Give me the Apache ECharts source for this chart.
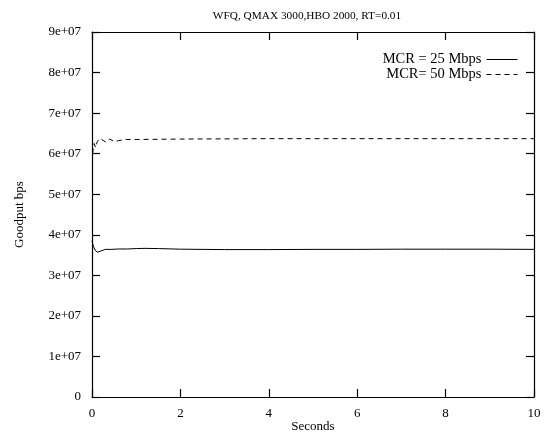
<!DOCTYPE html>
<html>
<head>
<meta charset="utf-8">
<script src="https://cdn.jsdelivr.net/npm/echarts@6/dist/echarts.min.js"></script>
<style>html,body{margin:0;padding:0;background:#fff}#c{width:547px;height:434px}</style>
</head>
<body>
<div id="c"></div>
<script>
var titleText = 'WFQ, QMAX 3000,HBO 2000, RT=0.01';
var xTicks = [0, 2, 4, 6, 8, 10];
var yTickLabels = ['0','1e+07','2e+07','3e+07','4e+07','5e+07','6e+07','7e+07','8e+07','9e+07'];
var seriesNames = ['MCR = 25 Mbps', 'MCR= 50 Mbps'];
var timeMcr25 = [0.0, 0.03, 0.07, 0.12, 0.2, 0.3, 0.45, 0.6, 0.8, 1.0, 1.2, 1.5, 2, 3, 4, 5, 6, 7, 8, 9, 10];
var goodMcr25 = [3.85e7, 3.72e7, 3.62e7, 3.57e7, 3.6e7, 3.64e7, 3.64e7, 3.65e7, 3.65e7, 3.66e7, 3.665e7, 3.66e7, 3.645e7, 3.635e7, 3.635e7, 3.64e7, 3.64e7, 3.645e7, 3.645e7, 3.645e7, 3.64e7];
var timeMcr50 = [0.01, 0.05, 0.08, 0.12, 0.18, 0.25, 0.32, 0.4, 0.5, 0.6, 0.75, 1.0, 1.5, 2, 3, 4, 5, 6, 7, 8, 9, 10];
var goodMcr50 = [6.0e7, 6.25e7, 6.15e7, 6.3e7, 6.38e7, 6.33e7, 6.28e7, 6.36e7, 6.3e7, 6.32e7, 6.35e7, 6.35e7, 6.355e7, 6.36e7, 6.365e7, 6.37e7, 6.37e7, 6.37e7, 6.37e7, 6.37e7, 6.37e7, 6.37e7];

function pairs(xs, ys) { return xs.map(function (x, i) { return [x, ys[i]]; }); }

var font = 'Liberation Serif';
var chart = echarts.init(document.getElementById('c'));
var axisLine = { show: true, onZero: false, lineStyle: { color: '#000', width: 1.2 } };
var tickIn = { show: true, inside: true, length: 8, lineStyle: { color: '#000', width: 1.2 } };
chart.setOption({
  animation: false,
  backgroundColor: '#fff',
  title: { text: titleText, left: 302, textAlign: 'center', top: 6,
    textStyle: { fontFamily: font, fontSize: 11.3, fontWeight: 'normal', color: '#000' } },
  grid: { left: 92, right: 13, top: 32, bottom: 37, containLabel: false, outerBoundsMode: 'none' },
  legend: {
    right: 29, top: 52, bottom: 'auto', left: 'auto', orient: 'vertical', align: 'right', itemGap: 0,
    itemWidth: 31, itemHeight: 12, padding: 0,
    itemStyle: { opacity: 0 },
    lineStyle: { width: 1 },
    textStyle: { fontFamily: font, fontSize: 14.5, lineHeight: 14, color: '#000' },
    data: [seriesNames[0], seriesNames[1]]
  },
  xAxis: [{
    type: 'value', min: 0, max: 10, interval: 2, position: 'bottom',
    name: 'Seconds', nameLocation: 'middle', nameGap: 23, nameMoveOverlap: false,
    nameTextStyle: { fontFamily: font, fontSize: 13, color: '#000' },
    axisLine: axisLine, axisTick: tickIn, splitLine: { show: false },
    axisLabel: { fontFamily: font, fontSize: 13, color: '#000', margin: 10,
      formatter: function (v) { return xTicks.indexOf(v) >= 0 ? String(v) : ''; } }
  }, {
    type: 'value', min: 0, max: 10, interval: 2, position: 'top',
    axisLine: axisLine, axisTick: tickIn, axisLabel: { show: false }, splitLine: { show: false }
  }],
  yAxis: [{
    type: 'value', min: 0, max: 9e7, interval: 1e7, position: 'left',
    name: 'Goodput bps', nameLocation: 'middle', nameGap: 66, nameMoveOverlap: false,
    nameTextStyle: { fontFamily: font, fontSize: 13, color: '#000' },
    axisLine: axisLine, axisTick: tickIn, splitLine: { show: false },
    axisLabel: { fontFamily: font, fontSize: 13, color: '#000', margin: 11,
      formatter: function (v) { return yTickLabels[Math.round(v / 1e7)]; } }
  }, {
    type: 'value', min: 0, max: 9e7, interval: 1e7, position: 'right',
    axisLine: axisLine, axisTick: tickIn, axisLabel: { show: false }, splitLine: { show: false }
  }],
  series: [{
    name: seriesNames[0], type: 'line', showSymbol: false, symbol: 'none',
    xAxisIndex: 0, yAxisIndex: 0,
    lineStyle: { color: '#000', width: 1 }, itemStyle: { color: '#000' },
    data: pairs(timeMcr25, goodMcr25)
  }, {
    name: seriesNames[1], type: 'line', showSymbol: false, symbol: 'none',
    xAxisIndex: 0, yAxisIndex: 0,
    lineStyle: { color: '#000', width: 1, type: [5, 4] }, itemStyle: { color: '#000' },
    data: pairs(timeMcr50, goodMcr50)
  }]
});
</script>
</body>
</html>
